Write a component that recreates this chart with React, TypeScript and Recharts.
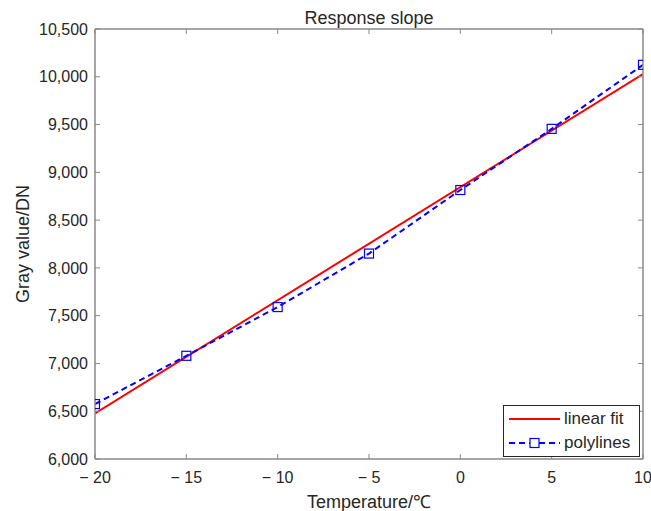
import { LineChart, Line, XAxis, YAxis, Legend, Label } from 'recharts'

const temperatures = [-20, -15, -10, -5, 0, 5, 10]
const polylineValues = [6575, 7080, 7590, 8150, 8815, 9455, 10125]
const fitTemperatures = [-20, 10]
const fitValues = [6478, 10028]
const xTicks = [-20, -15, -10, -5, 0, 5, 10]
const yTicks = [6000, 6500, 7000, 7500, 8000, 8500, 9000, 9500, 10000, 10500]

const polyData = temperatures.map((t, i) => ({ t, v: polylineValues[i] }))
const fitData = fitTemperatures.map((t, i) => ({ t, v: fitValues[i] }))

const AXIS = '#888888'
const TEXT = '#262626'
const FONT = '"Liberation Sans", Arial, sans-serif'

const fmtX = (v: number) => (v < 0 ? `\u2212 ${Math.abs(v)}` : `${v}`)
const fmtY = (v: number) => v.toLocaleString('en-US')

// draws nothing, but keeps the tick lines on
const NoLabel = () => <g />

function SquareDot(props: any) {
  const { cx, cy } = props
  if (cx == null || cy == null) return null
  return <rect x={cx - 4.5} y={cy - 4.5} width={9} height={9} fill="none" stroke="#0000ff" strokeWidth={1.2} />
}

function LegendBox() {
  return (
    <div
      style={{
        boxSizing: 'border-box',
        width: 137,
        height: 52,
        border: `1px solid ${TEXT}`,
        background: '#fff',
        fontFamily: FONT,
        fontSize: 17,
        color: TEXT,
        padding: '1px 0 0 4px',
      }}
    >
      <div style={{ display: 'flex', alignItems: 'center', height: 24 }}>
        <svg width={56} height={24}>
          <line x1={1} y1={12} x2={52} y2={12} stroke="#ff0000" strokeWidth={2} />
        </svg>
        <span>linear fit</span>
      </div>
      <div style={{ display: 'flex', alignItems: 'center', height: 24 }}>
        <svg width={56} height={24}>
          <line x1={1} y1={12} x2={52} y2={12} stroke="#0000ff" strokeWidth={2} strokeDasharray="6 4" />
          <rect x={22} y={7.5} width={9} height={9} fill="#fff" stroke="#0000ff" strokeWidth={1.2} />
        </svg>
        <span>polylines</span>
      </div>
    </div>
  )
}

export default function App() {
  return (
    <div style={{ position: 'absolute', left: 0, top: 0, width: 651, height: 511, background: '#fff' }}>
      <div
        style={{
          position: 'absolute',
          left: 95,
          width: 548,
          top: 8,
          textAlign: 'center',
          fontFamily: FONT,
          fontSize: 18,
          lineHeight: '20px',
          color: TEXT,
          zIndex: 2,
        }}
      >
        Response slope
      </div>
      <LineChart width={651} height={511} margin={{ top: 29, right: 8, left: 0, bottom: 0 }}>
        <XAxis
          xAxisId="main"
          type="number"
          dataKey="t"
          domain={[-20, 10]}
          ticks={xTicks}
          tickFormatter={fmtX}
          allowDataOverflow
          height={52}
          tickLine={false}
          tickSize={5}
          tickMargin={8}
          axisLine={{ stroke: AXIS, strokeWidth: 1.5 }}
          tick={{ fill: TEXT, fontSize: 16, fontFamily: FONT }}
        >
          <Label
            value="Temperature/℃"
            position="insideBottom"
            offset={3}
            style={{ fill: TEXT, fontSize: 18, fontFamily: FONT }}
          />
        </XAxis>
        <XAxis
          xAxisId="bottomTicks"
          type="number"
          dataKey="t"
          domain={[-20, 10]}
          ticks={xTicks}
          allowDataOverflow
          mirror
          tick={NoLabel}
          tickSize={5}
          tickLine={{ stroke: AXIS }}
          axisLine={false}
        />
        <XAxis
          xAxisId="top"
          orientation="top"
          type="number"
          dataKey="t"
          domain={[-20, 10]}
          ticks={xTicks}
          allowDataOverflow
          mirror
          tick={NoLabel}
          tickSize={5}
          tickLine={{ stroke: AXIS }}
          axisLine={{ stroke: AXIS, strokeWidth: 1.5 }}
        />
        <YAxis
          yAxisId="main"
          type="number"
          domain={[6000, 10500]}
          ticks={yTicks}
          tickFormatter={fmtY}
          allowDataOverflow
          width={95}
          tickLine={false}
          tickSize={5}
          tickMargin={2}
          axisLine={{ stroke: AXIS, strokeWidth: 1.5 }}
          tick={{ fill: TEXT, fontSize: 16, fontFamily: FONT }}
        >
          <Label
            value="Gray value/DN"
            angle={-90}
            position="insideLeft"
            offset={23}
            style={{ fill: TEXT, fontSize: 18, fontFamily: FONT, textAnchor: 'middle' }}
          />
        </YAxis>
        <YAxis
          yAxisId="leftTicks"
          type="number"
          domain={[6000, 10500]}
          ticks={yTicks}
          allowDataOverflow
          mirror
          tick={NoLabel}
          tickSize={5}
          tickLine={{ stroke: AXIS }}
          axisLine={false}
        />
        <YAxis
          yAxisId="right"
          orientation="right"
          type="number"
          domain={[6000, 10500]}
          ticks={yTicks}
          allowDataOverflow
          mirror
          tick={NoLabel}
          tickSize={5}
          tickLine={{ stroke: AXIS }}
          axisLine={{ stroke: AXIS, strokeWidth: 1.5 }}
        />
        <Legend
          content={<LegendBox />}
          layout="horizontal"
          verticalAlign="middle"
          align="center"
          wrapperStyle={{ left: 503, top: 405, width: 137, height: 52 }}
        />
        <Line
          xAxisId="main"
          yAxisId="main"
          data={fitData}
          dataKey="v"
          name="linear fit"
          stroke="#ff0000"
          strokeWidth={2}
          dot={false}
          activeDot={false}
          isAnimationActive={false}
        />
        <Line
          xAxisId="main"
          yAxisId="main"
          data={polyData}
          dataKey="v"
          name="polylines"
          stroke="#0000ff"
          strokeWidth={2}
          strokeDasharray="6 4"
          dot={<SquareDot />}
          activeDot={false}
          isAnimationActive={false}
        />
      </LineChart>
    </div>
  )
}
